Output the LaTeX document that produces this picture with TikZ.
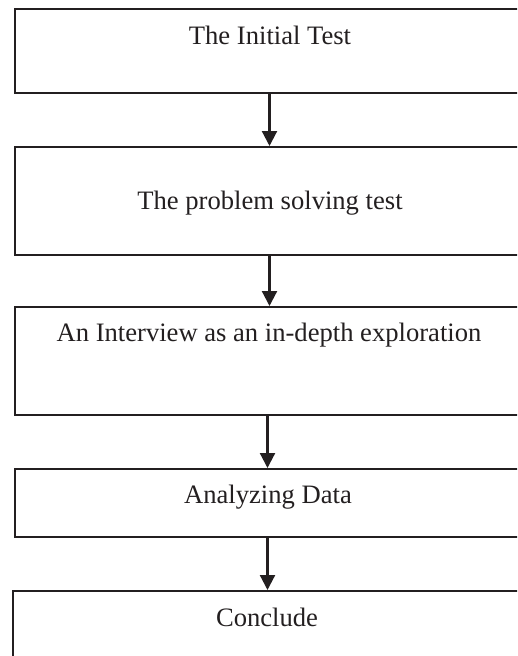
\documentclass[tikz,border=0pt]{standalone}
\usepackage{fontspec}
\setmainfont{Liberation Serif}
\usetikzlibrary{arrows.meta}
\definecolor{ink}{HTML}{231F20}
\begin{document}
\begin{tikzpicture}[x=1pt,y=-1pt,
  boxstyle/.style={draw=ink,line width=2.2pt,rectangle,inner sep=0pt},
  txt/.style={inner sep=0pt,text=ink,font=\fontsize{26.6}{30}\selectfont},
  arr/.style={draw=ink,line width=2.2pt,-{Triangle[width=15pt,length=15pt]}}]
\useasboundingbox (0,0) rectangle (517,656);
\clip (0,0) rectangle (517,656);
% boxes (right edge and last bottom edge lie outside the picture)
\node[boxstyle,minimum width=526.5pt,minimum height=84pt,anchor=north west] (b1) at (13.5,8) {};
\node[boxstyle,minimum width=526.5pt,minimum height=108pt,anchor=north west] (b2) at (13.5,146) {};
\node[boxstyle,minimum width=526.5pt,minimum height=108pt,anchor=north west] (b3) at (13.5,306) {};
\node[boxstyle,minimum width=526.5pt,minimum height=68pt,anchor=north west] (b4) at (13.5,468) {};
\node[boxstyle,minimum width=528.5pt,minimum height=100pt,anchor=north west] (b5) at (11.5,590) {};
% texts
\node[txt] (t1) at (270,35) {The Initial Test};
\node[txt] (t2) at (270,203) {The problem solving test};
\node[txt] (t3) at (269,335) {An Interview as an in-depth exploration};
\node[txt] (t4) at (268,497) {Analyzing Data};
\node[txt] (t5) at (267,617) {Conclude};
% connectors
\coordinate (ax1) at (269.5,0);
\coordinate (ax2) at (267.5,0);
\draw[arr] (b1.south -| ax1) -- (b2.north -| ax1);
\draw[arr] (b2.south -| ax1) -- (b3.north -| ax1);
\draw[arr] (b3.south -| ax2) -- (b4.north -| ax2);
\draw[arr] (b4.south -| ax2) -- (b5.north -| ax2);
\end{tikzpicture}
\end{document}
